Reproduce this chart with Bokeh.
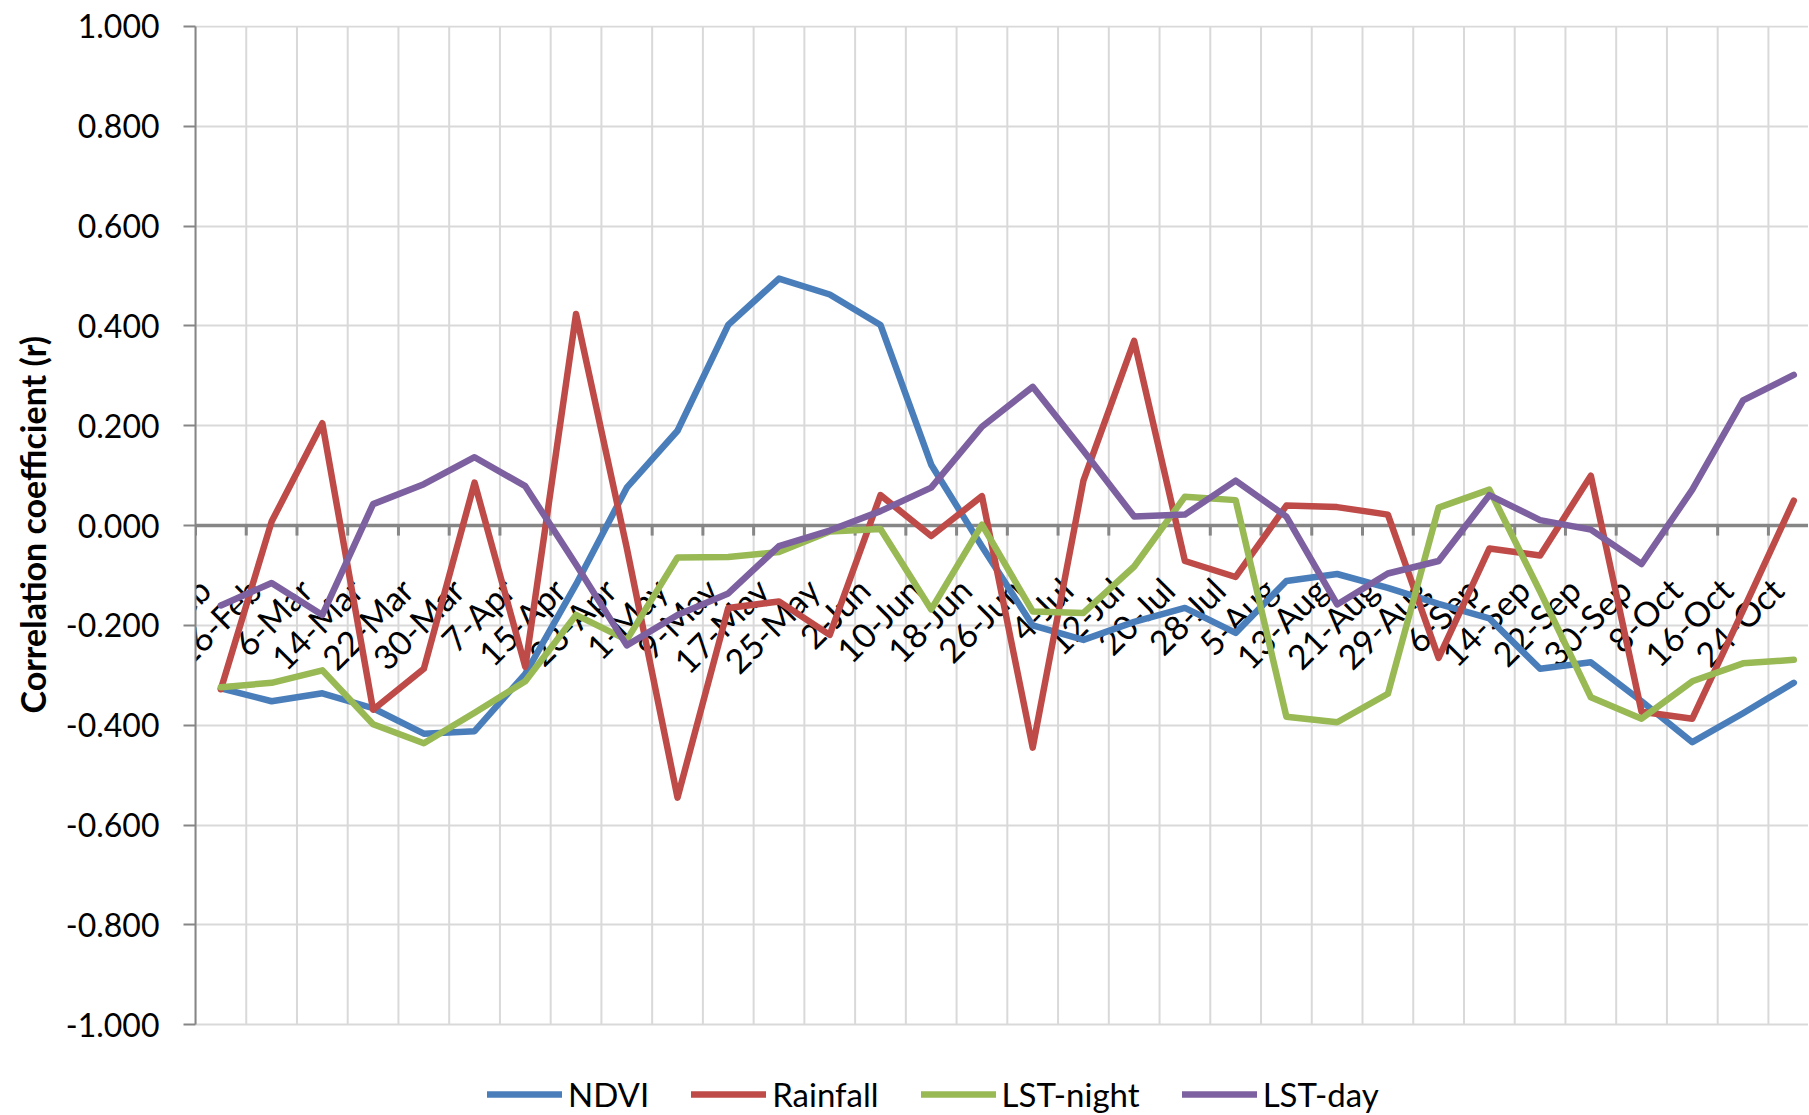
import math
from bokeh.plotting import figure
from bokeh.models import Range1d, FixedTicker, NumeralTickFormatter, Legend, LegendItem, Title
from bokeh.embed import file_html
from bokeh.resources import INLINE
from bokeh.core.properties import value

# ---------------- data ----------------
dates = ["18-Feb", "26-Feb", "6-Mar", "14-Mar", "22-Mar", "30-Mar", "7-Apr", "15-Apr",
         "23-Apr", "1-May", "9-May", "17-May", "25-May", "2-Jun", "10-Jun", "18-Jun",
         "26-Jun", "4-Jul", "12-Jul", "20-Jul", "28-Jul", "5-Aug", "13-Aug", "21-Aug",
         "29-Aug", "6-Sep", "14-Sep", "22-Sep", "30-Sep", "8-Oct", "16-Oct", "24-Oct"]

ndvi = [-0.326, -0.352, -0.336, -0.366, -0.417, -0.412, -0.297, -0.118,
        0.076, 0.190, 0.402, 0.495, 0.463, 0.402, 0.122, -0.042,
        -0.200, -0.229, -0.193, -0.165, -0.215, -0.111, -0.097, -0.125,
        -0.157, -0.186, -0.287, -0.274, -0.352, -0.434, -0.376, -0.315]

rainfall = [-0.328, 0.008, 0.205, -0.369, -0.287, 0.086, -0.283, 0.424,
            -0.045, -0.545, -0.165, -0.152, -0.219, 0.061, -0.021, 0.059,
            -0.445, 0.090, 0.370, -0.071, -0.103, 0.040, 0.037, 0.022,
            -0.265, -0.046, -0.060, 0.100, -0.373, -0.387, -0.170, 0.050]

lst_night = [-0.324, -0.315, -0.290, -0.398, -0.436, -0.375, -0.312, -0.179,
             -0.229, -0.064, -0.063, -0.053, -0.012, -0.007, -0.168, 0.002,
             -0.172, -0.175, -0.082, 0.058, 0.051, -0.383, -0.394, -0.337,
             0.036, 0.072, -0.132, -0.344, -0.387, -0.312, -0.276, -0.269]

lst_day = [-0.160, -0.115, -0.179, 0.043, 0.083, 0.137, 0.079, -0.078,
           -0.240, -0.179, -0.136, -0.041, -0.010, 0.029, 0.076, 0.198,
           0.278, 0.150, 0.018, 0.022, 0.090, 0.018, -0.158, -0.096,
           -0.071, 0.061, 0.011, -0.008, -0.077, 0.072, 0.251, 0.302]

y_ticks = [-1.0, -0.8, -0.6, -0.4, -0.2, 0.0, 0.2, 0.4, 0.6, 0.8, 1.0]

series_names = ["NDVI", "Rainfall", "LST-night", "LST-day"]
series_colors = ["#4A7EBB", "#BE4B48", "#98B954", "#7D60A0"]
y_title = "Correlation coefficient (r)"

# ---------------- figure ----------------
FONT = "Lato"
GRID = "#D9D9D9"
AXIS = "#868686"
n = len(dates)
idx = list(range(n))
bounds = [k - 0.5 for k in range(n + 1)]
y_lo, y_hi = y_ticks[0], y_ticks[-1]

# frame reaches the bottom of the figure so that the legend below the
# -1.000 line is drawn inside it (no clipping)
p = figure(width=1808, height=1114, output_backend="svg", toolbar_location=None,
           x_range=Range1d(-0.5, 31.29), y_range=Range1d(-1.180, 1.002),
           min_border_left=194, min_border_right=0, min_border_top=25, min_border_bottom=0,
           x_axis_location=None)
p.outline_line_color = None
p.background_fill_color = "white"
p.border_fill_color = "white"

# grids
p.ygrid.ticker = FixedTicker(ticks=y_ticks)
p.ygrid.grid_line_color = GRID
p.ygrid.grid_line_width = 2
p.xgrid.visible = False
p.segment(x0=bounds, y0=[y_lo] * len(bounds), x1=bounds, y1=[y_hi] * len(bounds),
          line_color=GRID, line_width=2)

# y axis
p.yaxis.bounds = (y_lo, y_hi)
p.yaxis.ticker = FixedTicker(ticks=y_ticks)
p.yaxis.formatter = NumeralTickFormatter(format="0.000")
p.yaxis.major_label_text_font = FONT
p.yaxis.major_label_text_font_size = "32px"
p.yaxis.major_label_text_color = "black"
p.yaxis.major_label_standoff = 24
p.yaxis.major_tick_out = 12
p.yaxis.major_tick_in = 0
p.yaxis.major_tick_line_color = AXIS
p.yaxis.major_tick_line_width = 2
p.yaxis.minor_tick_line_color = None
p.yaxis.axis_line_color = AXIS
p.yaxis.axis_line_width = 2

# y axis title, placed along the -1..1 span rather than the taller frame
p.add_layout(Title(text=y_title, align="left", offset=401, standoff=19,
                   text_font=FONT, text_font_style="bold", text_font_size="34px",
                   text_color="black"), "left")

# category axis crossing at zero
p.hspan(y=[0], line_color=AXIS, line_width=3.5)
p.ray(x=bounds, y=[0] * len(bounds), length=10, length_units="screen",
      angle=-math.pi / 2, line_color=AXIS, line_width=3)
p.text(x=idx, y=[0] * n, text=dates, angle=math.pi / 4,
       text_align="right", text_baseline="middle", x_offset=-17, y_offset=58,
       text_font=value(FONT), text_font_size="34px", text_color="black")

# series
series = [ndvi, rainfall, lst_night, lst_day]
items = []
for name, col, vals in zip(series_names, series_colors, series):
    r = p.line(idx, vals, line_color=col, line_width=6.5, line_join="round", line_cap="round")
    items.append(LegendItem(label=name, renderers=[r]))

legend = Legend(items=items, orientation="horizontal", location=(292, 0),
                glyph_width=75, glyph_height=20, label_standoff=6, spacing=42,
                padding=0, margin=0, border_line_color=None, background_fill_alpha=0,
                label_text_font=FONT, label_text_font_size="33px", label_text_color="black")
p.add_layout(legend)

open("out.html", "w").write(file_html(p, INLINE))
